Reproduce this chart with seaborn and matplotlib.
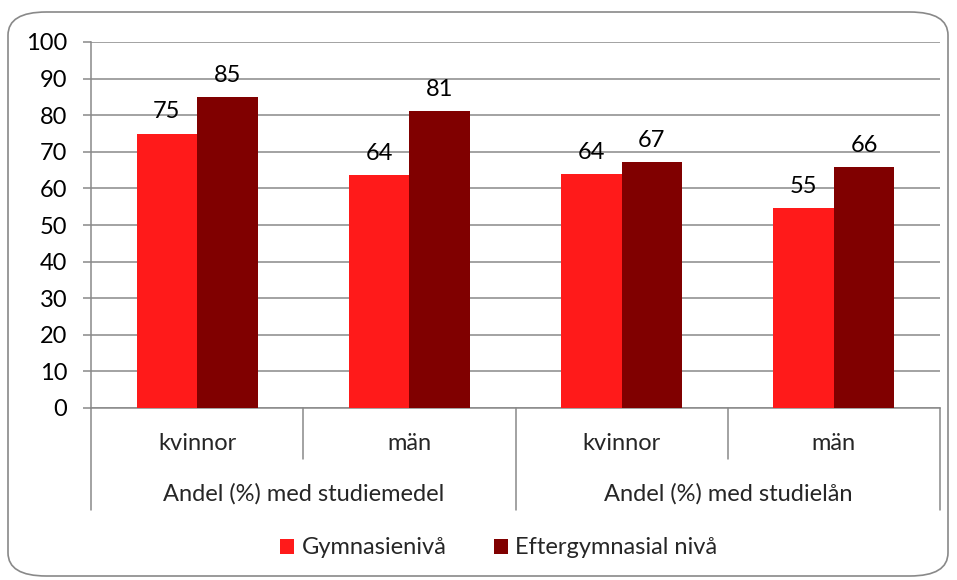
import matplotlib
matplotlib.use("Agg")
import matplotlib.pyplot as plt
import seaborn as sns
import pandas as pd
from matplotlib.patches import FancyBboxPatch, Patch
from matplotlib.lines import Line2D

groups = ["Andel (%) med studiemedel", "Andel (%) med studielån"]
sexes = ["kvinnor", "män"]
series = ["Gymnasienivå", "Eftergymnasial nivå"]
gymnasie = [75.0, 63.7, 63.9, 54.6]
efter = [85.0, 81.1, 67.3, 65.9]
yticks = [0, 10, 20, 30, 40, 50, 60, 70, 80, 90, 100]

RED = "#FF1A1A"
DARK = "#800000"
GRAY = "#898989"

cats = [f"{g}|{s}" for g in groups for s in sexes]
df = pd.DataFrame({
    "cat": cats * 2,
    "serie": [series[0]] * 4 + [series[1]] * 4,
    "value": gymnasie + efter,
})

sns.set_style("white")
plt.rcParams["font.family"] = ["Lato", "DejaVu Sans"]
FS = 17

fig = plt.figure(figsize=(9.57, 5.8), dpi=100)
ax = fig.add_axes([91 / 957, 1 - 408 / 580, (940 - 91) / 957, (408 - 42) / 580])

# outer rounded frame
frame = FancyBboxPatch((8 / 957, 4 / 580), 940 / 957, 564 / 580,
                       boxstyle="round,pad=0,rounding_size=0.04",
                       transform=fig.transFigure, facecolor="none",
                       edgecolor=GRAY, linewidth=1.2, zorder=0)
fig.patches.append(frame)

sns.barplot(data=df, x="cat", y="value", hue="serie", order=cats,
            hue_order=series, palette=[RED, DARK], saturation=1,
            width=0.57, gap=0, linewidth=0, ax=ax, legend=False, zorder=3)

for cont in ax.containers:
    for bar in cont:
        h = bar.get_height()
        ax.annotate(f"{h:.0f}", (bar.get_x() + bar.get_width() / 2, h),
                    xytext=(0, 8), textcoords="offset points",
                    ha="center", va="bottom", fontsize=FS, color="black")

ax.set_ylim(0, 100)
ax.set_xlim(-0.5, len(cats) - 0.5)
ax.set_yticks(yticks)
ax.set_yticklabels([str(t) for t in yticks], fontsize=FS, color="black")
ax.yaxis.grid(True, color=GRAY, linewidth=1.1)
ax.set_axisbelow(True)
ax.tick_params(axis="y", length=6, width=1.1, color=GRAY, pad=11, left=True)
ax.set_xticks([])
ax.set_xlabel("")
ax.set_ylabel("")
for side in ["top", "right"]:
    ax.spines[side].set_visible(False)
for side in ["left", "bottom"]:
    ax.spines[side].set_color(GRAY)
    ax.spines[side].set_linewidth(1.1)

# multi-level category axis
tr = ax.get_xaxis_transform()
h_ax = (408 - 42)
lvl1 = -(459 - 408) / h_ax
lvl2 = -(510 - 408) / h_ax
for i in range(len(cats) + 1):
    x = i - 0.5
    y_end = lvl2 if i % 2 == 0 else lvl1
    ax.add_line(Line2D([x, x], [0, y_end], transform=tr, color=GRAY,
                       linewidth=1.1, clip_on=False))
for i, c in enumerate(cats):
    ax.text(i, -(443 - 408) / h_ax, c.split("|")[1], transform=tr,
            ha="center", va="center", fontsize=FS)
for j, g in enumerate(groups):
    ax.text(2 * j + 0.5, -(494 - 408) / h_ax, g, transform=tr,
            ha="center", va="center", fontsize=FS)

handles = [Patch(facecolor=RED, edgecolor="none"),
           Patch(facecolor=DARK, edgecolor="none")]
fig.legend(handles, series, loc="center", bbox_to_anchor=(0.521, 1 - 548 / 580),
           ncol=2, frameon=False, fontsize=FS, handlelength=0.6,
           handleheight=0.6, handletextpad=0.3, columnspacing=2.0)

fig.savefig("out.png", dpi=100)
